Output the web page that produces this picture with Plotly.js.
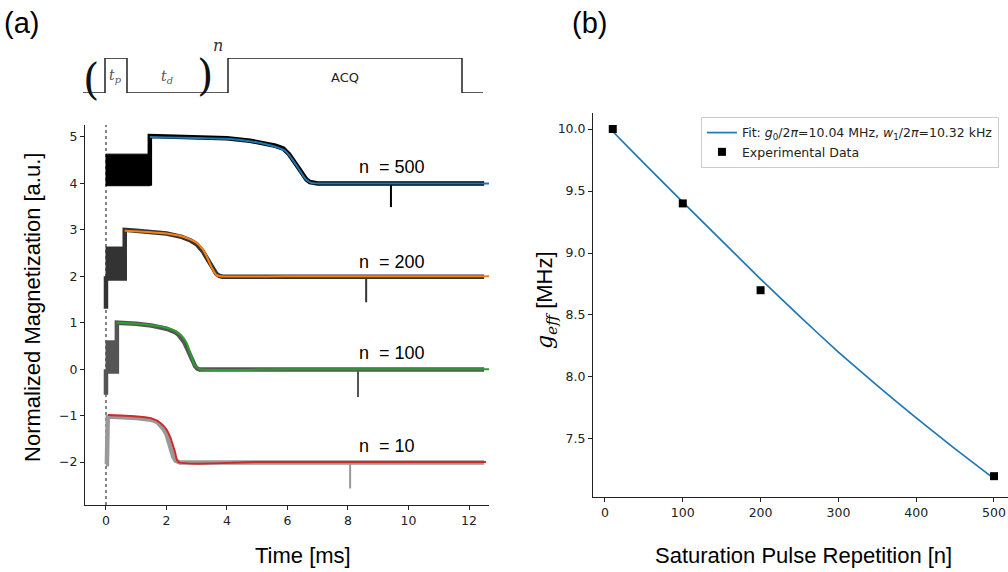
<!DOCTYPE html>
<html>
<head>
<meta charset="utf-8">
<script src="https://cdn.plot.ly/plotly-3.0.1.min.js"></script>
<style>html,body{margin:0;padding:0;background:#fff;}#chart{width:1008px;height:572px;}</style>
</head>
<body>
<div id="chart"></div>
<script>
const block500T = [0, 0, 1.45, 1.45, 0];
const block500V = [3.95, 4.63, 4.63, 3.95, 3.95];
const data500T = [1.45, 1.45, 2, 3, 4, 4.76, 5.3, 5.6, 5.86, 6.05, 6.19, 6.3, 6.41, 6.52, 6.63, 6.74, 6.85, 7.0, 8, 10, 11, 12.5];
const data500V = [3.95, 5.02, 5.01, 4.99, 4.97, 4.92, 4.86, 4.81, 4.75, 4.63, 4.5, 4.4, 4.29, 4.18, 4.08, 4.03, 4.01, 4.0, 4.0, 4.0, 4.0, 4.0];
const spike500T = [9.42, 9.42];
const spike500V = [4.0, 3.49];
const fit500T = [1.45, 2, 3, 4, 4.75, 5.25, 5.6, 5.9, 6.05, 6.2, 6.4, 6.6, 6.8, 7.0, 8, 10, 12.66];
const fit500V = [5.0, 4.99, 4.98, 4.96, 4.91, 4.85, 4.79, 4.71, 4.61, 4.48, 4.28, 4.09, 4.01, 4.0, 4.0, 4.0, 4.0];

const block200T = [0, 0, 0.62, 0.62, 0];
const block200V = [1.95, 2.63, 2.63, 1.95, 1.95];
const data200T = [0, 0, 0.62, 0.62, 1, 1.5, 2, 2.5, 2.8, 3.0, 3.1, 3.2, 3.28, 3.35, 3.43, 3.5, 3.58, 3.65, 3.75, 3.85, 6, 10, 12.5];
const data200V = [1.3, 1.95, 1.95, 3.0, 2.98, 2.95, 2.92, 2.85, 2.77, 2.69, 2.63, 2.54, 2.45, 2.37, 2.28, 2.2, 2.11, 2.05, 2.01, 1.99, 1.99, 1.99, 1.99];
const spike200T = [8.6, 8.6];
const spike200V = [1.99, 1.44];
const fit200T = [0.62, 1, 1.5, 2, 2.5, 2.8, 3.0, 3.2, 3.35, 3.5, 3.65, 3.8, 6, 12.66];
const fit200V = [2.98, 2.97, 2.95, 2.92, 2.86, 2.79, 2.72, 2.58, 2.4, 2.18, 2.03, 2.0, 2.0, 2.0];

const block100T = [0, 0, 0.36, 0.36, 0];
const block100V = [-0.05, 0.61, 0.61, -0.05, -0.05];
const data100T = [0, 0, 0.36, 0.36, 1, 1.5, 2, 2.2, 2.3, 2.4, 2.5, 2.58, 2.65, 2.72, 2.8, 2.88, 2.95, 3.02, 3.1, 6, 10, 12.5];
const data100V = [-0.55, -0.05, -0.05, 1.0, 0.98, 0.94, 0.87, 0.82, 0.79, 0.74, 0.67, 0.59, 0.49, 0.38, 0.27, 0.15, 0.06, 0.01, -0.01, -0.01, -0.01, -0.01];
const spike100T = [8.33, 8.33];
const spike100V = [-0.01, -0.6];
const fit100T = [0.36, 1, 1.5, 2, 2.3, 2.5, 2.67, 2.8, 2.93, 3.1, 6, 12.66];
const fit100V = [1.0, 0.98, 0.95, 0.89, 0.82, 0.72, 0.56, 0.32, 0.09, 0.0, 0.0, 0.0];

const data10T = [0, 0.03, 0.06, 0.1, 1, 1.5, 1.7, 1.8, 1.9, 2.0, 2.08, 2.15, 2.22, 2.3, 2.38, 2.45, 5, 10, 12.5];
const data10V = [-2.05, -2.05, -1.0, -1.02, -1.05, -1.09, -1.14, -1.2, -1.29, -1.4, -1.56, -1.75, -1.88, -1.97, -2.0, -2.01, -2.01, -2.01, -2.01];
const spike10T = [8.07, 8.07];
const spike10V = [-2.01, -2.57];
const fit10T = [0.07, 0.5, 1.0, 1.5, 1.8, 2.0, 2.12, 2.28, 2.39, 5, 12.56];
const fit10V = [-0.99, -1.0, -1.02, -1.06, -1.16, -1.3, -1.46, -1.78, -2.0, -2.0, -2.0];

const seriesLabels = ['n  = 500', 'n  = 200', 'n  = 100', 'n  = 10'];
const labelT = [8.3, 8.3, 8.3, 8.3];
const labelV = [4.35, 2.31, 0.34, -1.66];

const timeTicks = [0, 2, 4, 6, 8, 10, 12];
const magTicks = [-2, -1, 0, 1, 2, 3, 4, 5];

// ---------- Pulse sequence diagram ----------
const pulseX = [0, 22, 22, 44, 44, 145, 145, 379, 379, 400];
const pulseY = [0, 0, 1, 1, 0, 0, 1, 1, 0, 0];

// ---------- Panel (b) ----------
const nExp = [10, 100, 200, 500];
const gExp = [10.0, 9.4, 8.7, 7.2];
const nFit = [10, 50, 100, 150, 200, 250, 300, 350, 400, 450, 500];
const gFit = [9.98, 9.725, 9.41, 9.1, 8.79, 8.49, 8.2, 7.93, 7.67, 7.42, 7.18];
const nTicks = [0, 100, 200, 300, 400, 500];
const gTicks = [7.5, 8.0, 8.5, 9.0, 9.5, 10.0];

const fitColors = ['#1f77b4', '#ff7f0e', '#2ca02c', '#d62728'];
const dataColors = ['#000000', '#333333', '#555555', '#999999'];

const traces = [];
function blockTrace(t, v, c) {
  traces.push({x: t, y: v, xaxis: 'x', yaxis: 'y', mode: 'lines', fill: 'toself',
    fillcolor: c, line: {color: c, width: 1}, showlegend: false, hoverinfo: 'skip'});
}
function dataTrace(t, v, c) {
  traces.push({x: t, y: v, xaxis: 'x', yaxis: 'y', mode: 'lines',
    line: {color: c, width: 4.5}, showlegend: false});
}
function spikeTrace(t, v, c) {
  traces.push({x: t, y: v, xaxis: 'x', yaxis: 'y', mode: 'lines',
    line: {color: c, width: 2}, showlegend: false});
}
function fitTrace(t, v, c) {
  traces.push({x: t, y: v, xaxis: 'x', yaxis: 'y', mode: 'lines',
    line: {color: c, width: 2, shape: 'spline', smoothing: 0.6}, showlegend: false});
}
blockTrace(block500T, block500V, dataColors[0]);
dataTrace(data500T, data500V, dataColors[0]);
spikeTrace(spike500T, spike500V, dataColors[0]);
fitTrace(fit500T, fit500V, fitColors[0]);
blockTrace(block200T, block200V, dataColors[1]);
dataTrace(data200T, data200V, dataColors[1]);
spikeTrace(spike200T, spike200V, dataColors[1]);
fitTrace(fit200T, fit200V, fitColors[1]);
blockTrace(block100T, block100V, dataColors[2]);
dataTrace(data100T, data100V, dataColors[2]);
spikeTrace(spike100T, spike100V, dataColors[2]);
fitTrace(fit100T, fit100V, fitColors[2]);
dataTrace(data10T, data10V, dataColors[3]);
spikeTrace(spike10T, spike10V, dataColors[3]);
fitTrace(fit10T, fit10V, fitColors[3]);

traces.push({x: pulseX, y: pulseY, xaxis: 'x3', yaxis: 'y3', mode: 'lines',
  line: {color: '#222', width: 1.5}, showlegend: false, hoverinfo: 'skip'});

traces.push({x: nFit, y: gFit, xaxis: 'x2', yaxis: 'y2', mode: 'lines',
  line: {color: '#1f77b4', width: 1.7, shape: 'spline', smoothing: 0.3},
  name: 'Fit: <i>g</i><sub>0</sub>/2<i>π</i>=10.04 MHz, <i>w</i><sub>1</sub>/2<i>π</i>=10.32 kHz'});
traces.push({x: nExp, y: gExp, xaxis: 'x2', yaxis: 'y2', mode: 'markers',
  marker: {symbol: 'square', size: 8, color: '#000'}, name: 'Experimental Data'});

const tickFont = {family: 'DejaVu Sans', size: 12.5, color: '#222'};
const axBase = {showline: true, linecolor: '#222', linewidth: 1, ticks: 'outside', ticklen: 4,
  tickwidth: 1, tickcolor: '#222', showgrid: false, zeroline: false, tickfont: tickFont, automargin: false};

const ann = [];
const titleFont = {family: 'Liberation Sans', size: 22, color: '#000'};
ann.push({text: '(a)', xref: 'paper', yref: 'paper', x: 0.0218, y: 0.9598, showarrow: false,
  xanchor: 'center', yanchor: 'middle', font: {family: 'Liberation Sans', size: 29, color: '#000'}});
ann.push({text: '(b)', xref: 'paper', yref: 'paper', x: 0.5853, y: 0.9598, showarrow: false,
  xanchor: 'center', yanchor: 'middle', font: {family: 'Liberation Sans', size: 29, color: '#000'}});
ann.push({text: 'Time [ms]', xref: 'paper', yref: 'paper', x: 0.3006, y: 0.0297, showarrow: false,
  xanchor: 'center', yanchor: 'middle', font: titleFont});
ann.push({text: 'Saturation Pulse Repetition [n]', xref: 'paper', yref: 'paper', x: 0.7976, y: 0.0297,
  showarrow: false, xanchor: 'center', yanchor: 'middle', font: titleFont});
ann.push({text: 'Normalized Magnetization [a.u.]', xref: 'paper', yref: 'paper', x: 0.0327, y: 0.4633,
  showarrow: false, textangle: -90, xanchor: 'center', yanchor: 'middle', font: titleFont});
ann.push({text: '<span style="font-family:DejaVu Serif"><i>g</i><sub><i>eff</i></sub></span> [MHz]', xref: 'paper', yref: 'paper', x: 0.5417, y: 0.4755,
  showarrow: false, textangle: -90, xanchor: 'center', yanchor: 'middle', font: titleFont});
for (let i = 0; i < seriesLabels.length; i++) {
  ann.push({text: seriesLabels[i], xref: 'x', yref: 'y', x: labelT[i], y: labelV[i], showarrow: false,
    xanchor: 'left', yanchor: 'middle', font: {family: 'Liberation Sans', size: 18, color: '#000'}});
}
// pulse diagram labels
const serif = 'DejaVu Serif';
ann.push({text: '(', xref: 'x3', yref: 'y3', x: 8, y: 0.38, showarrow: false, xanchor: 'center', yanchor: 'middle',
  font: {family: serif, size: 42, color: '#111'}});
ann.push({text: ')', xref: 'x3', yref: 'y3', x: 122, y: 0.5, showarrow: false, xanchor: 'center', yanchor: 'middle',
  font: {family: serif, size: 42, color: '#111'}, borderpad: 0});
ann.push({text: '<i>n</i>', xref: 'paper', yref: 'paper', x: 0.2163, y: 0.92, showarrow: false, xanchor: 'center', yanchor: 'middle',
  font: {family: serif, size: 16, color: '#333'}, borderpad: 0});
ann.push({text: '<i>t</i><sub><i>p</i></sub>', xref: 'x3', yref: 'y3', x: 33, y: 0.5, showarrow: false, xanchor: 'center', yanchor: 'middle',
  font: {family: serif, size: 14, color: '#555'}});
ann.push({text: '<i>t</i><sub><i>d</i></sub>', xref: 'x3', yref: 'y3', x: 84, y: 0.46, showarrow: false, xanchor: 'center', yanchor: 'middle',
  font: {family: serif, size: 14, color: '#555'}});
ann.push({text: 'ACQ', xref: 'x3', yref: 'y3', x: 262, y: 0.43, showarrow: false, xanchor: 'center', yanchor: 'middle',
  font: {family: 'DejaVu Sans', size: 13, color: '#222'}});

const layout = {
  width: 1008, height: 572, margin: {l: 0, r: 0, t: 0, b: 0},
  paper_bgcolor: '#fff', plot_bgcolor: 'rgba(0,0,0,0)',
  showlegend: true,
  xaxis: Object.assign({}, axBase, {domain: [0.0843, 0.4851], range: [-0.694, 12.66],
    tickmode: 'array', tickvals: timeTicks, anchor: 'y'}),
  yaxis: Object.assign({}, axBase, {domain: [0.1171, 0.7815], range: [-2.926, 5.258],
    tickmode: 'array', tickvals: magTicks, anchor: 'x'}),
  xaxis2: Object.assign({}, axBase, {domain: [0.5883, 1.0], range: [-15.4, 518],
    tickmode: 'array', tickvals: nTicks, anchor: 'y2'}),
  yaxis2: Object.assign({}, axBase, {domain: [0.1311, 0.8024], range: [7.032, 10.129],
    tickmode: 'array', tickvals: gTicks, ticktext: gTicks.map(v => v.toFixed(1)), anchor: 'x2'}),
  xaxis3: {domain: [0.08234, 0.47917], range: [0, 400], visible: false, anchor: 'y3', fixedrange: true},
  yaxis3: {domain: [0.8374, 0.8986], range: [0, 1], visible: false, anchor: 'x3', fixedrange: true},
  legend: {x: 0.6954, y: 0.7955, xanchor: 'left', yanchor: 'top', bgcolor: '#fff',
    bordercolor: '#cccccc', borderwidth: 1, font: {family: 'DejaVu Sans', size: 12.5, color: '#222'},
    tracegroupgap: 0, itemwidth: 30},
  shapes: [{type: 'line', xref: 'x', yref: 'y domain', x0: 0, x1: 0, y0: 0, y1: 1,
    line: {color: '#777', width: 1.8, dash: 'dot'}, layer: 'below'}],
  annotations: ann
};
Plotly.newPlot('chart', traces, layout, {staticPlot: true, displayModeBar: false});
</script>
</body>
</html>
